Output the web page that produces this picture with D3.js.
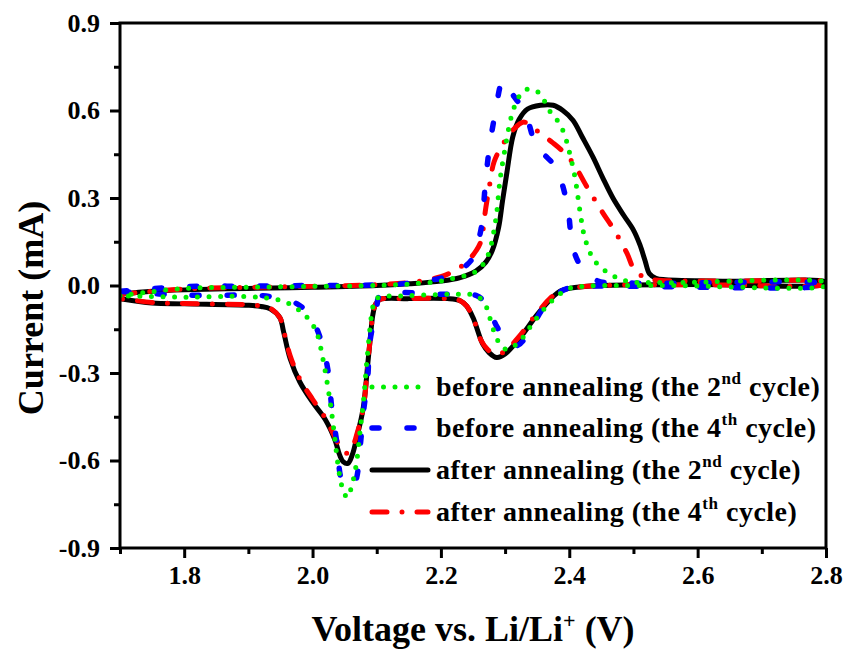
<!DOCTYPE html>
<html>
<head>
<meta charset="utf-8">
<script src="https://cdn.jsdelivr.net/npm/d3@7"></script>
<style>
  body { margin: 0; background: #fff; }
</style>
</head>
<body>
<svg id="chart" width="848" height="655"></svg>
<script>
'use strict';
// CV loops: [voltage V, current mA], anodic sweep up then cathodic sweep back
var beforeCycle2 = [
  [1.70,-0.035],[1.80,-0.010],[1.90,-0.006],[2.00,-0.003],[2.10,0.000],[2.15,0.005],[2.20,0.015],
  [2.219,0.024],[2.24,0.035],[2.256,0.05],[2.268,0.08],[2.276,0.12],[2.282,0.18],[2.287,0.25],
  [2.292,0.36],[2.30,0.47],[2.311,0.59],[2.321,0.645],[2.331,0.67],[2.345,0.672],[2.355,0.655],
  [2.362,0.63],[2.372,0.59],[2.385,0.555],[2.395,0.50],[2.401,0.45],[2.409,0.37],[2.417,0.25],
  [2.424,0.165],[2.435,0.10],[2.443,0.075],[2.463,0.04],[2.49,0.015],[2.55,0.01],[2.80,0.01],
  [2.80,0.000],[2.55,0.000],[2.42,-0.003],[2.40,-0.01],[2.385,-0.03],[2.365,-0.07],[2.343,-0.13],
  [2.323,-0.19],[2.303,-0.22],[2.289,-0.19],[2.276,-0.11],[2.27,-0.07],[2.256,-0.035],[2.23,-0.03],
  [2.15,-0.035],[2.105,-0.04],[2.097,-0.05],[2.093,-0.085],[2.085,-0.25],[2.079,-0.405],[2.074,-0.50],
  [2.069,-0.60],[2.063,-0.67],[2.054,-0.727],[2.046,-0.69],[2.04,-0.62],[2.035,-0.53],[2.03,-0.44],
  [2.024,-0.35],[2.016,-0.25],[2.007,-0.165],[1.996,-0.12],[1.985,-0.096],[1.97,-0.07],[1.949,-0.05],
  [1.898,-0.038],[1.80,-0.04],[1.70,-0.035]
];
var beforeCycle4 = [
  [1.70,-0.02],[1.80,-0.004],[1.90,-0.002],[2.00,0.000],[2.10,0.002],[2.15,0.008],[2.20,0.025],
  [2.22,0.04],[2.24,0.07],[2.25,0.096],[2.258,0.15],[2.264,0.213],[2.269,0.343],[2.275,0.463],
  [2.284,0.583],[2.297,0.703],[2.31,0.66],[2.331,0.593],[2.35,0.47],[2.365,0.44],[2.381,0.40],
  [2.39,0.34],[2.398,0.264],[2.406,0.127],[2.42,0.06],[2.443,0.017],[2.50,0.008],[2.80,0.005],
  [2.80,0.000],[2.45,-0.002],[2.406,-0.005],[2.38,-0.03],[2.357,-0.085],[2.34,-0.15],[2.32,-0.205],
  [2.305,-0.20],[2.287,-0.14],[2.272,-0.07],[2.256,-0.035],[2.20,-0.03],[2.105,-0.035],[2.10,-0.075],
  [2.089,-0.20],[2.086,-0.315],[2.079,-0.44],[2.074,-0.555],[2.066,-0.675],[2.056,-0.69],
  [2.046,-0.67],[2.038,-0.54],[2.03,-0.42],[2.024,-0.29],[2.012,-0.18],[1.995,-0.10],[1.976,-0.063],
  [1.95,-0.045],[1.923,-0.035],[1.80,-0.033],[1.70,-0.02]
];
var afterCycle2 = [
  [1.70,-0.030],[1.75,-0.020],[1.80,-0.015],[1.90,-0.010],[2.00,-0.006],[2.10,0.000],[2.15,0.006],
  [2.20,0.015],[2.23,0.027],[2.255,0.05],[2.27,0.08],[2.28,0.12],[2.29,0.20],[2.296,0.29],
  [2.303,0.39],[2.312,0.51],[2.322,0.57],[2.335,0.605],[2.355,0.618],[2.375,0.618],[2.39,0.60],
  [2.406,0.566],[2.42,0.51],[2.437,0.44],[2.452,0.37],[2.468,0.30],[2.485,0.24],[2.50,0.19],
  [2.51,0.14],[2.518,0.086],[2.525,0.04],[2.535,0.025],[2.55,0.02],[2.65,0.015],[2.80,0.012],
  [2.80,0.005],[2.60,0.003],[2.45,0.000],[2.40,-0.01],[2.385,-0.02],[2.374,-0.04],[2.35,-0.10],
  [2.323,-0.18],[2.30,-0.235],[2.287,-0.247],[2.275,-0.23],[2.265,-0.20],[2.25,-0.11],[2.24,-0.07],
  [2.23,-0.052],[2.21,-0.045],[2.15,-0.045],[2.105,-0.048],[2.098,-0.065],[2.094,-0.10],
  [2.09,-0.18],[2.086,-0.27],[2.079,-0.42],[2.069,-0.52],[2.062,-0.58],[2.055,-0.61],[2.048,-0.605],
  [2.042,-0.58],[2.035,-0.53],[2.02,-0.46],[2.00,-0.40],[1.98,-0.33],[1.965,-0.25],[1.955,-0.16],
  [1.949,-0.11],[1.934,-0.08],[1.92,-0.072],[1.90,-0.068],[1.80,-0.063],[1.75,-0.06],[1.70,-0.045]
];
var afterCycle4 = [
  [1.70,-0.030],[1.80,-0.012],[1.90,-0.006],[2.00,-0.003],[2.10,0.003],[2.15,0.01],[2.20,0.03],
  [2.22,0.05],[2.24,0.08],[2.255,0.12],[2.262,0.15],[2.27,0.267],[2.276,0.346],[2.283,0.425],
  [2.298,0.49],[2.313,0.535],[2.328,0.56],[2.34,0.55],[2.35,0.53],[2.374,0.49],[2.39,0.46],
  [2.406,0.42],[2.427,0.34],[2.452,0.25],[2.47,0.19],[2.49,0.11],[2.50,0.06],[2.515,0.03],
  [2.53,0.02],[2.65,0.015],[2.80,0.012],
  [2.80,0.005],[2.60,0.003],[2.45,0.000],[2.40,-0.01],[2.385,-0.02],[2.372,-0.04],[2.348,-0.10],
  [2.32,-0.18],[2.298,-0.228],[2.285,-0.235],[2.273,-0.22],[2.263,-0.19],[2.25,-0.11],[2.24,-0.07],
  [2.23,-0.052],[2.21,-0.045],[2.15,-0.045],[2.105,-0.048],[2.098,-0.065],[2.094,-0.10],
  [2.09,-0.18],[2.086,-0.27],[2.079,-0.42],[2.069,-0.51],[2.062,-0.555],[2.055,-0.575],[2.048,-0.57],
  [2.042,-0.55],[2.035,-0.52],[2.02,-0.455],[2.00,-0.39],[1.98,-0.32],[1.965,-0.24],[1.955,-0.155],
  [1.949,-0.11],[1.934,-0.078],[1.92,-0.07],[1.90,-0.066],[1.80,-0.062],[1.75,-0.058],[1.70,-0.045]
];

var seriesNames = ['before annealing (the 2', 'before annealing (the 4', 'after annealing (the 2', 'after annealing (the 4'];
var seriesSup = ['nd', 'th', 'nd', 'th'];
var xMajor = [1.8, 2.0, 2.2, 2.4, 2.6, 2.8];
var xMinor = [1.7, 1.9, 2.1, 2.3, 2.5, 2.7];
var yMajor = [-0.9, -0.6, -0.3, 0.0, 0.3, 0.6, 0.9];
var yMinor = [-0.75, -0.45, -0.15, 0.15, 0.45, 0.75];

var FONT = '"Liberation Serif", "Times New Roman", serif';
var svg = d3.select('#chart');
var plotLeft = 120, plotTop = 23, plotRight = 826, plotBottom = 548;

var x = d3.scaleLinear().domain([1.7, 2.8]).range([plotLeft, plotRight]);
var y = d3.scaleLinear().domain([-0.9, 0.9]).range([plotBottom, plotTop]);

// plain hyphen for negatives, like the original
var fmt = function (d) { return d3.format('.1f')(d).replace('\u2212', '-'); };

// styles for the 4 loops (legend order)
var styles = [
  {data: beforeCycle2, color: '#00ee00', dash: '0 11.5', width: 5},
  {data: beforeCycle4, color: '#0000ff', dash: '7 28', width: 5.5},
  {data: afterCycle2, color: '#000000', dash: null, width: 5},
  {data: afterCycle4, color: '#ff0000', dash: '15 15 0 15', width: 5}
];

svg.append('clipPath').attr('id', 'plotclip')
  .append('rect').attr('x', plotLeft).attr('y', plotTop)
  .attr('width', plotRight - plotLeft).attr('height', plotBottom - plotTop);

var line = d3.line()
  .x(function (d) { return x(d[0]); })
  .y(function (d) { return y(d[1]); })
  .curve(d3.curveCatmullRom.alpha(0.5));

// drawing order: black, red, blue, green on top
var drawOrder = [2, 3, 1, 0];
var curves = svg.append('g').attr('clip-path', 'url(#plotclip)');
drawOrder.forEach(function (i) {
  var s = styles[i];
  curves.append('path')
    .attr('d', line(s.data))
    .attr('fill', 'none')
    .attr('stroke', s.color)
    .attr('stroke-width', s.width)
    .attr('stroke-linecap', 'round')
    .attr('stroke-linejoin', 'round')
    .attr('stroke-dasharray', s.dash);
});

// frame
svg.append('rect')
  .attr('x', plotLeft).attr('y', plotTop)
  .attr('width', plotRight - plotLeft).attr('height', plotBottom - plotTop)
  .attr('fill', 'none').attr('stroke', '#000').attr('stroke-width', 3);

function styleAxis(g) {
  g.select('.domain').remove();
  g.attr('font-family', null).attr('font-size', null);
  g.selectAll('.tick line').attr('stroke', '#000').attr('stroke-width', 3);
  g.selectAll('.tick text').attr('fill', '#000')
    .style('font-family', FONT).style('font-weight', 'bold').style('font-size', '26px');
}

svg.append('g').attr('transform', 'translate(0,' + plotBottom + ')')
  .call(d3.axisBottom(x).tickValues(xMinor).tickSize(6).tickFormat(''))
  .call(styleAxis);
svg.append('g').attr('transform', 'translate(0,' + plotBottom + ')')
  .call(d3.axisBottom(x).tickValues(xMajor).tickSize(10).tickPadding(8).tickFormat(fmt))
  .call(styleAxis);
svg.append('g').attr('transform', 'translate(' + plotLeft + ',0)')
  .call(d3.axisLeft(y).tickValues(yMinor).tickSize(6).tickFormat(''))
  .call(styleAxis);
svg.append('g').attr('transform', 'translate(' + plotLeft + ',0)')
  .call(d3.axisLeft(y).tickValues(yMajor).tickSize(10).tickPadding(10).tickFormat(fmt))
  .call(styleAxis);

// axis titles
var xt = svg.append('text')
  .attr('x', (plotLeft + plotRight) / 2).attr('y', 641)
  .attr('text-anchor', 'middle')
  .style('font-family', FONT).style('font-weight', 'bold').style('font-size', '36px');
xt.append('tspan').text('Voltage vs. Li/Li');
xt.append('tspan').attr('dy', -13).style('font-size', '22px').text('+');
xt.append('tspan').attr('dy', 13).text(' (V)');

svg.append('text')
  .attr('transform', 'translate(43,308) rotate(-90)')
  .attr('text-anchor', 'middle')
  .style('font-family', FONT).style('font-weight', 'bold').style('font-size', '36px')
  .text('Current (mA)');

// legend
var legendY = [387, 428, 470, 512];
var legend = svg.append('g');
styles.forEach(function (s, i) {
  var ly = legendY[i];
  legend.append('line')
    .attr('x1', 372).attr('x2', 428).attr('y1', ly).attr('y2', ly)
    .attr('stroke', s.color).attr('stroke-width', s.width)
    .attr('stroke-linecap', 'round')
    .attr('stroke-dasharray', s.dash);
  var t = legend.append('text')
    .attr('x', 436).attr('y', ly + 9)
    .style('font-family', FONT).style('font-weight', 'bold').style('font-size', '28px')
    .style('letter-spacing', '0.5px');
  t.append('tspan').text(seriesNames[i]);
  t.append('tspan').attr('dy', -12).style('font-size', '17px').text(seriesSup[i]);
  t.append('tspan').attr('dy', 12).text(' cycle)');
});
</script>
</body>
</html>
